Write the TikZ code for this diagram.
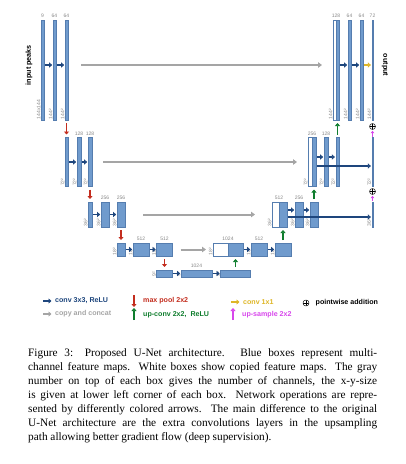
\documentclass[tikz,border=0pt]{standalone}
\usepackage{fontspec}
\setmainfont{Liberation Serif}
\setsansfont{Liberation Sans}
\usetikzlibrary{arrows.meta,positioning}

\definecolor{mapblue}{RGB}{112,155,205}
\definecolor{mapedge}{RGB}{85,125,175}
\definecolor{convblue}{RGB}{30,70,125}
\definecolor{poolred}{RGB}{195,45,30}
\definecolor{upgreen}{RGB}{15,125,45}
\definecolor{outyellow}{RGB}{222,182,40}
\definecolor{samplemag}{RGB}{215,70,235}
\definecolor{copygray}{RGB}{165,165,165}
\definecolor{numgray}{RGB}{135,135,135}

\begin{document}
\begin{tikzpicture}[x=1pt, y=-1pt,
        every node/.style={font=\sffamily},
        fmap/.style={draw=mapedge, fill=mapblue, line width=0.3pt, inner sep=0pt, outer sep=0pt},
        cmap/.style={fmap, fill=white},
        ch/.style={text=numgray, font=\sffamily\fontsize{5}{5}\selectfont, inner sep=0.5pt},
        sz/.style={ch, rotate=90, anchor=south west},
        conv/.style={-{Triangle[length=3pt,width=5pt]}, line width=1.6pt, convblue, shorten <=0.8pt, shorten >=0.8pt},
        onebyone/.style={conv, outyellow},
        pool/.style={-{Triangle[length=3pt,width=5pt]}, line width=1.6pt, poolred, shorten <=3pt, shorten >=3pt},
        upconv/.style={pool, upgreen},
        upsamp/.style={-{Triangle[length=2.5pt,width=3.5pt]}, line width=0.9pt, samplemag, shorten <=1pt, shorten >=1pt},
        copyarr/.style={-{Triangle[length=4pt,width=5.5pt]}, line width=2pt, copygray},
        addop/.style={circle, draw, line width=0.45pt, minimum size=6pt, inner sep=0pt,
            path picture={\draw[line width=0.45pt] (path picture bounding box.north) -- (path picture bounding box.south)
                (path picture bounding box.west) -- (path picture bounding box.east);}},
        side/.style={font=\sffamily\bfseries\fontsize{7.2}{7.2}\selectfont, inner sep=0pt},
        key/.style={font=\sffamily\bfseries\fontsize{7.1}{7.2}\selectfont, anchor=west, inner sep=0pt}
    ]
    \useasboundingbox (0,0) rectangle (405,464);

    % contracting path
    \node[fmap, minimum width=3pt, minimum height=100pt] (in1) at (42.5,70) {};
    \node[fmap, minimum width=3pt, minimum height=100pt] (in2) at (54.5,70) {};
    \node[fmap, minimum width=3pt, minimum height=100pt] (in3) at (66.5,70) {};
    \node[fmap, minimum width=3pt, minimum height=49pt] (d2a) at (66.5,162) {};
    \node[fmap, minimum width=4pt, minimum height=49pt] (d2b) at (79,162) {};
    \node[fmap, minimum width=4pt, minimum height=49pt] (d2c) at (90,162) {};
    \node[fmap, minimum width=4pt, minimum height=25pt] (d3a) at (90,214.5) {};
    \node[fmap, minimum width=8pt, minimum height=25pt] (d3b) at (105,214.5) {};
    \node[fmap, minimum width=8pt, minimum height=25pt] (d3c) at (121,214.5) {};
    \node[fmap, minimum width=8pt, minimum height=13pt] (d4a) at (121,249.5) {};
    \node[fmap, minimum width=16pt, minimum height=13pt] (d4b) at (141,249.5) {};
    \node[fmap, minimum width=16pt, minimum height=13pt] (d4c) at (164.5,249.5) {};
    \node[fmap, minimum width=16pt, minimum height=7pt] (b5a) at (164.5,273.5) {};
    \node[fmap, minimum width=31pt, minimum height=7pt] (b5b) at (196.5,273.5) {};
    \node[fmap, minimum width=30pt, minimum height=7pt] (b5c) at (235.5,273.5) {};

    % expanding path
    \node[cmap, minimum width=15pt, minimum height=13pt] (u4w) at (220.5,249.5) {};
    \node[fmap, minimum width=15pt, minimum height=13pt] (u4a) at (235.5,249.5) {};
    \node[fmap, minimum width=16pt, minimum height=13pt] (u4b) at (259,249.5) {};
    \node[fmap, minimum width=16pt, minimum height=13pt] (u4c) at (283,249.5) {};
    \node[cmap, minimum width=7pt, minimum height=25pt] (u3w) at (275.5,214.5) {};
    \node[fmap, minimum width=8pt, minimum height=25pt] (u3a) at (283,214.5) {};
    \node[fmap, minimum width=8pt, minimum height=25pt] (u3b) at (299,214.5) {};
    \node[fmap, minimum width=8pt, minimum height=25pt] (u3c) at (314,214.5) {};
    \node[fmap, minimum width=1.6pt, minimum height=25pt] (u3s) at (372.5,214.5) {};
    \node[cmap, minimum width=4pt, minimum height=49pt] (u2w) at (310,162) {};
    \node[fmap, minimum width=4pt, minimum height=49pt] (u2a) at (314,162) {};
    \node[fmap, minimum width=4pt, minimum height=49pt] (u2b) at (326,162) {};
    \node[fmap, minimum width=3.5pt, minimum height=49pt] (u2c) at (337.5,162) {};
    \node[fmap, minimum width=1.6pt, minimum height=49pt] (u2s) at (372.5,162) {};
    \node[cmap, minimum width=3pt, minimum height=100pt] (o1w) at (334.5,70) {};
    \node[fmap, minimum width=3pt, minimum height=100pt] (o1) at (337.5,70) {};
    \node[fmap, minimum width=3pt, minimum height=100pt] (o2) at (349.5,70) {};
    \node[fmap, minimum width=3pt, minimum height=100pt] (o3) at (361.5,70) {};
    \node[fmap, minimum width=1.6pt, minimum height=100pt] (o4) at (372.5,70) {};
    \node[addop] (add1) at (372.5,126.5) {};
    \node[addop] (add2) at (372.5,191.5) {};

    \node[side, rotate=90] (inlbl) at (29,65) {input peaks};
    \node[side, rotate=-90] (outlbl) at (385,65) {output};

    % channels
    \node[ch, above=1.5pt of in1] (in1c) {9};
    \node[ch, above=1.5pt of in2] (in2c) {64};
    \node[ch, above=1.5pt of in3] (in3c) {64};
    \node[ch, above=1.5pt of d2b] (d2bc) {128};
    \node[ch, above=1.5pt of d2c] (d2cc) {128};
    \node[ch, above=1.5pt of d3b] (d3bc) {256};
    \node[ch, above=1.5pt of d3c] (d3cc) {256};
    \node[ch, above=1.5pt of d4b] (d4bc) {512};
    \node[ch, above=1.5pt of d4c] (d4cc) {512};
    \node[ch, above=1.5pt of b5b] (b5bc) {1024};
    \node[ch, above=1.5pt of u4w.north east] (u4c1) {1024};
    \node[ch, above=1.5pt of u4b] (u4bc) {512};
    \node[ch, above=1.5pt of u3w.north east] (u3c1) {512};
    \node[ch, above=1.5pt of u3b] (u3bc) {256};
    \node[ch, above=1.5pt of u2w.north east] (u2c1) {256};
    \node[ch, above=1.5pt of u2b] (u2bc) {128};
    \node[ch, above=1.5pt of o1w.north east] (o1c) {128};
    \node[ch, above=1.5pt of o2] (o2c) {64};
    \node[ch, above=1.5pt of o3] (o3c) {64};
    \node[ch, above=1.5pt of o4] (o4c) {72};

    % sizes
    \node[sz] (in1s) at (in1.south west) {144x144};
    \node[sz] (in2s) at (in2.south west) {144²};
    \node[sz] (in3s) at (in3.south west) {144²};
    \node[sz] (d2as) at (d2a.south west) {72²};
    \node[sz] (d2bs) at (d2b.south west) {72²};
    \node[sz] (d2cs) at (d2c.south west) {72²};
    \node[sz] (d3as) at (d3a.south west) {36²};
    \node[sz] (d3bs) at (d3b.south west) {36²};
    \node[sz] (d3cs) at (d3c.south west) {36²};
    \node[sz] (d4as) at (d4a.south west) {18²};
    \node[sz] (d4bs) at (d4b.south west) {18²};
    \node[sz] (d4cs) at (d4c.south west) {18²};
    \node[sz] (b5as) at (b5a.south west) {9²};
    \node[sz] (b5bs) at (b5b.south west) {9²};
    \node[sz] (b5cs) at (b5c.south west) {9²};
    \node[sz] (u4ws) at (u4w.south west) {18²};
    \node[sz] (u4bs) at (u4b.south west) {18²};
    \node[sz] (u4cs) at (u4c.south west) {18²};
    \node[sz] (u3ws) at (u3w.south west) {36²};
    \node[sz] (u3bs) at (u3b.south west) {36²};
    \node[sz] (u3cs) at (u3c.south west) {36²};
    \node[sz] (u3ss) at (u3s.south west) {36²};
    \node[sz] (u2ws) at (u2w.south west) {72²};
    \node[sz] (u2bs) at (u2b.south west) {72²};
    \node[sz] (u2cs) at (u2c.south west) {72²};
    \node[sz] (u2ss) at (u2s.south west) {72²};
    \node[sz] (o1s) at (o1w.south west) {144²};
    \node[sz] (o2s) at (o2.south west) {144²};
    \node[sz] (o3s) at (o3.south west) {144²};
    \node[sz] (o4s) at (o4.south west) {144²};

    % copy and concat
    \draw[copyarr, shorten <=13pt, shorten >=11pt] ([yshift=5pt]in3.east) -- ([yshift=5pt]o1w.west);
    \draw[copyarr, shorten <=11pt, shorten >=11pt] (d2c) -- (u2w);
    \draw[copyarr, shorten <=18pt, shorten >=17pt] (d3c) -- (u3w);
    \draw[copyarr, shorten <=8pt, shorten >=7pt] (d4c) -- (u4w);

    % conv 3x3
    \draw[conv] ([yshift=5pt]in1.east) -- ([yshift=5pt]in2.west);
    \draw[conv] ([yshift=5pt]in2.east) -- ([yshift=5pt]in3.west);
    \draw[conv] (d2a) -- (d2b);
    \draw[conv] (d2b) -- (d2c);
    \draw[conv] (d3a) -- (d3b);
    \draw[conv] (d3b) -- (d3c);
    \draw[conv] (d4a) -- (d4b);
    \draw[conv] (d4b) -- (d4c);
    \draw[conv] (b5a) -- (b5b);
    \draw[conv] (b5b) -- (b5c);
    \draw[conv] (u4a) -- (u4b);
    \draw[conv] (u4b) -- (u4c);
    \draw[conv] ([yshift=4.5pt]u3a.east) -- ([yshift=4.5pt]u3b.west);
    \draw[conv] ([yshift=4.5pt]u3b.east) -- ([yshift=4.5pt]u3c.west);
    \draw[conv] ([yshift=-2.5pt]u3a.east) -- ([yshift=-2.5pt]u3s.west);
    \draw[conv] ([yshift=5pt]u2a.east) -- ([yshift=5pt]u2b.west);
    \draw[conv] ([yshift=5pt]u2b.east) -- ([yshift=5pt]u2c.west);
    \draw[conv] ([yshift=-4pt]u2a.east) -- ([yshift=-4pt]u2s.west);
    \draw[conv] ([yshift=5pt]o1.east) -- ([yshift=5pt]o2.west);
    \draw[conv] ([yshift=5pt]o2.east) -- ([yshift=5pt]o3.west);
    \draw[onebyone] ([yshift=5pt]o3.east) -- ([yshift=5pt]o4.west);

    % max pool / up-conv / up-sample
    \draw[pool] (in3) -- (d2a);
    \draw[pool] (d2c) -- (d3a);
    \draw[pool] (d3c) -- (d4a);
    \draw[pool] (d4c) -- (b5a);
    \draw[upconv] (b5c) -- (u4a);
    \draw[upconv] (u4c) -- (u3a);
    \draw[upconv] (u3c) -- (u2a);
    \draw[upconv] (u2c) -- (o1);
    \draw[upsamp] (u2s) -- (add1);
    \draw[upsamp] (u3s) -- (add2);

    % legend
    \coordinate (k1a) at (43,301);
    \coordinate (k1b) at (51.5,301);
    \coordinate (k2a) at (43,314);
    \coordinate (k2b) at (51.5,314);
    \coordinate (k3a) at (134,295);
    \coordinate (k3b) at (134,307);
    \coordinate (k4a) at (134,320);
    \coordinate (k4b) at (134,308);
    \coordinate (k5a) at (231,302);
    \coordinate (k5b) at (239.5,302);
    \coordinate (k6a) at (233,320);
    \coordinate (k6b) at (233,308);
    \draw[conv, shorten <=0pt, shorten >=0pt] (k1a) -- (k1b);
    \draw[copyarr, -{Triangle[length=3pt,width=5pt]}, line width=1.6pt] (k2a) -- (k2b);
    \draw[pool, shorten <=0pt, shorten >=0pt] (k3a) -- (k3b);
    \draw[upconv, shorten <=0pt, shorten >=0pt] (k4a) -- (k4b);
    \draw[onebyone, shorten <=0pt, shorten >=0pt] (k5a) -- (k5b);
    \draw[upsamp, -{Triangle[length=3pt,width=5pt]}, line width=1.6pt, shorten <=0pt, shorten >=0pt] (k6a) -- (k6b);
    \node[addop] (k7) at (306,303) {};
    \node[key, text=convblue] (lconv) at (55,301) {conv 3x3, ReLU};
    \node[key, text=copygray] (lcopy) at (55,314) {copy and concat};
    \node[key, text=poolred] (lpool) at (143,301) {max pool 2x2};
    \node[key, text=upgreen] (lup) at (143,315) {up-conv 2x2,\ \ ReLU};
    \node[key, text=outyellow] (lout) at (243,302) {conv 1x1};
    \node[key, text=samplemag] (lsamp) at (242,315) {up-sample 2x2};
    \node[key] (ladd) at (315.5,303) {pointwise addition};

    % caption
    \node[anchor=north west, text width=349pt, align=justify, inner sep=0pt,
        font=\rmfamily\fontsize{11.3}{14.1}\selectfont] (caption) at (28,348)
        {Figure 3: Proposed U-Net architecture. Blue boxes represent multi-\linebreak
        channel feature maps. White boxes show copied feature maps. The gray\linebreak
        number on top of each box gives the number of channels, the x-y-size\linebreak
        is given at lower left corner of each box. Network operations are repre-\linebreak
        sented by differently colored arrows. The main difference to the original\linebreak
        U-Net architecture are the extra convolutions layers in the upsampling\linebreak
        path allowing better gradient flow (deep supervision).};
\end{tikzpicture}
\end{document}
